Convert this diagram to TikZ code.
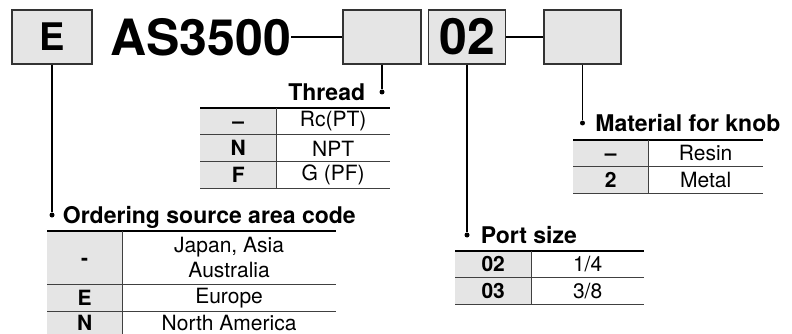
\documentclass[tikz,border=0pt]{standalone}
\usepackage{fontspec}
\setmainfont{TeX Gyre Heros}
\usetikzlibrary{positioning}
\newcommand{\partfont}{\fontsize{50}{50}\selectfont\bfseries}
\newcommand{\titlefont}{\fontsize{23}{27}\selectfont\bfseries}
\newcommand{\cellfont}{\fontsize{21}{25}\selectfont}
\tikzset{
  partbox/.style  = {draw=black!80, line width=1.5pt, fill=gray!20,
                     minimum height=54pt, inner sep=0pt, font=\partfont},
  link/.style     = {line width=2.4pt},
  lead/.style     = {line width=1.4pt},
  leaddot/.style  = {circle, fill=black, inner sep=0pt, minimum size=5pt},
  ttl/.style      = {inner sep=0pt, text height=16.5pt, text depth=0pt, font=\titlefont},
  codecell/.style = {fill=gray!20, minimum width=#1, minimum height=26.5pt,
                     inner sep=0pt, text height=15pt, text depth=0pt,
                     font=\cellfont\bfseries},
  valcell/.style  = {minimum width=#1, minimum height=26.5pt, inner sep=0pt,
                     align=center, font=\cellfont},
  toprule/.style  = {line width=2pt},
  rowrule/.style  = {line width=0.9pt, black!75},
}

\begin{document}
\begin{tikzpicture}[x=1pt, y=-1pt]
  \useasboundingbox (0,0) rectangle (792,334);
  \clip (0,0) rectangle (792,334);

  % part number
  \node[partbox, minimum width=80pt, font=\fontsize{38}{38}\selectfont\bfseries] (ebox) at (52,37) {E};
  \node[anchor=west, inner sep=0pt, font=\partfont] (model) at (110,37) {AS3500};
  \node[partbox, minimum width=78pt] (thrbox) at (382,37) {};
  \node[partbox, minimum width=77pt, right=6pt of thrbox] (portbox) {02};
  \node[partbox, minimum width=77pt, right=37pt of portbox] (knobbox) {};
  \draw[link] (model.east) -- (thrbox.west);
  \draw[link] (portbox.east) -- (knobbox.west);

  % thread
  \node[leaddot] (thrdot) at (thrbox.south |- 0,92) {};
  \draw[lead] (thrbox.south) -- (thrdot);
  \node[ttl, left=14pt of thrdot] (thrttl) {Thread};
  \node[codecell=76pt, anchor=north west] (thr1c) at (200,108) {–};
  \node[valcell=113pt, right=0pt of thr1c] (thr1v) {Rc(PT)};
  \node[codecell=76pt, below=0pt of thr1c] (thr2c) {N};
  \node[valcell=113pt, right=0pt of thr2c] (thr2v) {NPT};
  \node[codecell=76pt, below=0pt of thr2c] (thr3c) {F};
  \node[valcell=113pt, right=0pt of thr3c] (thr3v) {G (PF)};
  \draw[toprule] (thr1c.north west) -- (thr1v.north east);
  \foreach \i in {1,2,3}
    \draw[rowrule] (thr\i c.south west) -- (thr\i v.south east);
  \draw[rowrule] (thr1c.north east) -- (thr3c.south east);

  % ordering source area code
  \node[leaddot] (orddot) at (ebox.south |- 0,215) {};
  \draw[lead] (ebox.south) -- (orddot);
  \node[ttl, right=8pt of orddot] (ordttl) {Ordering source area code};
  \node[codecell=75pt, minimum height=53pt, anchor=north west] (ord1c) at (47,231) {-};
  \node[valcell=213pt, minimum height=53pt, right=0pt of ord1c] (ord1v) {Japan, Asia\\Australia};
  \node[codecell=75pt, below=0pt of ord1c] (ord2c) {E};
  \node[valcell=213pt, right=0pt of ord2c] (ord2v) {Europe};
  \node[codecell=75pt, minimum height=23pt, below=0pt of ord2c] (ord3c) {N};
  \node[valcell=213pt, minimum height=23pt, right=0pt of ord3c] (ord3v) {North America};
  \draw[toprule] (ord1c.north west) -- (ord1v.north east);
  \foreach \i in {1,2}
    \draw[rowrule] (ord\i c.south west) -- (ord\i v.south east);
  \draw[rowrule] (ord1c.north east) -- (ord3c.south east);

  % port size
  \node[leaddot] (portdot) at (portbox.south |- 0,235) {};
  \draw[lead] (portbox.south) -- (portdot);
  \node[ttl, right=11pt of portdot] (portttl) {Port size};
  \node[codecell=76pt, anchor=north west] (port1c) at (455,251) {02};
  \node[valcell=112pt, right=0pt of port1c] (port1v) {1/4};
  \node[codecell=76pt, below=0pt of port1c] (port2c) {03};
  \node[valcell=112pt, right=0pt of port2c] (port2v) {3/8};
  \draw[toprule] (port1c.north west) -- (port1v.north east);
  \foreach \i in {1,2}
    \draw[rowrule] (port\i c.south west) -- (port\i v.south east);
  \draw[rowrule] (port1c.north east) -- (port2c.south east);

  % material for knob
  \node[leaddot] (knobdot) at (knobbox.south |- 0,123) {};
  \draw[lead] (knobbox.south) -- (knobdot);
  \node[ttl, right=10pt of knobdot] (knobttl) {Material for knob};
  \node[codecell=75pt, anchor=north west] (knob1c) at (573,140) {–};
  \node[valcell=114pt, right=0pt of knob1c] (knob1v) {Resin};
  \node[codecell=75pt, below=0pt of knob1c] (knob2c) {2};
  \node[valcell=114pt, right=0pt of knob2c] (knob2v) {Metal};
  \draw[toprule] (knob1c.north west) -- (knob1v.north east);
  \foreach \i in {1,2}
    \draw[rowrule] (knob\i c.south west) -- (knob\i v.south east);
  \draw[rowrule] (knob1c.north east) -- (knob2c.south east);
\end{tikzpicture}
\end{document}
